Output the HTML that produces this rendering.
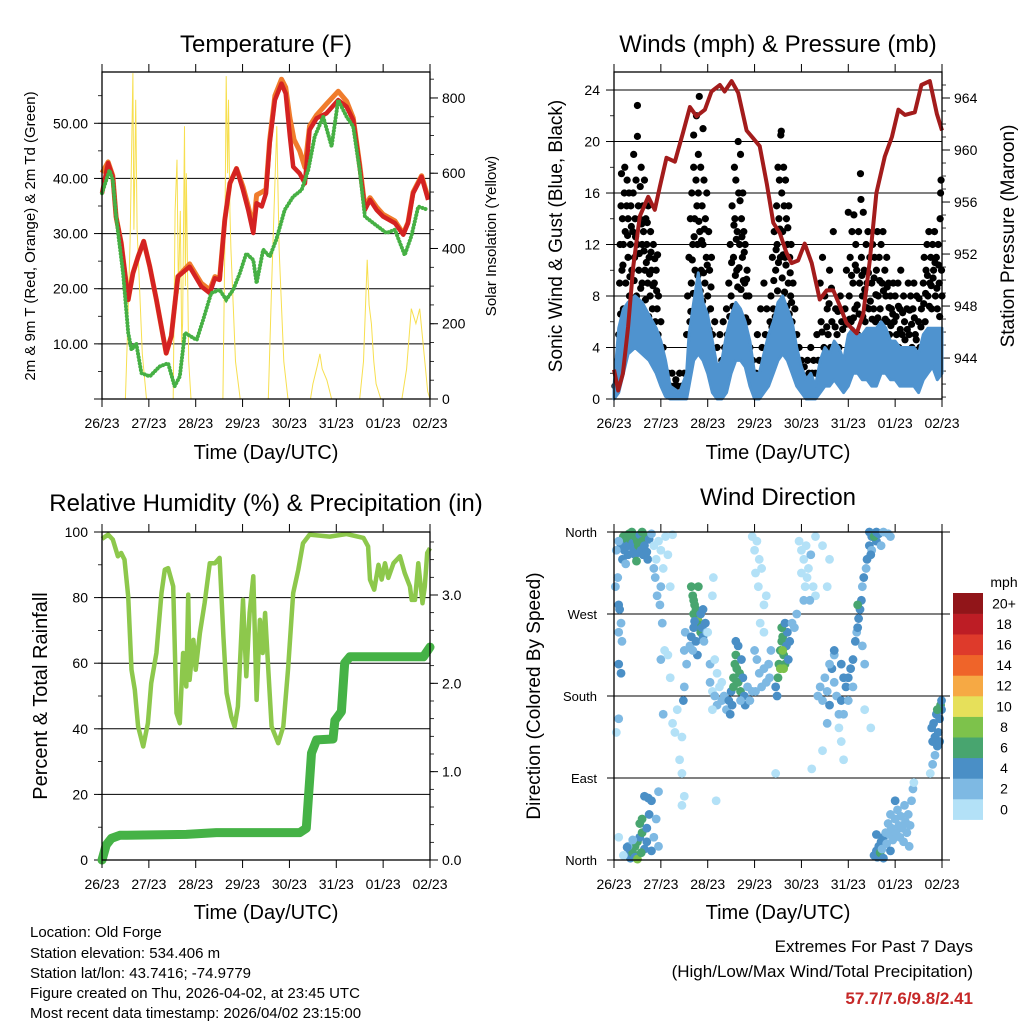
<!DOCTYPE html>
<html><head><meta charset="utf-8"><style>
html,body{margin:0;padding:0;background:#fff;}
svg{display:block;font-family:"Liberation Sans",Arial,sans-serif;}
</style></head><body>
<svg id="fig" width="1024" height="1024" viewBox="0 0 1024 1024" xmlns="http://www.w3.org/2000/svg">
<rect width="1024" height="1024" fill="#fff"/>
<g id="layer"></g>
<text x="266" y="52" font-size="24" text-anchor="middle">Temperature (F)</text>
<text x="778" y="52" font-size="24" text-anchor="middle">Winds (mph) &amp; Pressure (mb)</text>
<text x="266" y="511" font-size="24" text-anchor="middle">Relative Humidity (%) &amp; Precipitation (in)</text>
<text x="778" y="505" font-size="24" text-anchor="middle">Wind Direction</text>
<text x="266" y="459" font-size="20" text-anchor="middle">Time (Day/UTC)</text>
<text x="778" y="459" font-size="20" text-anchor="middle">Time (Day/UTC)</text>
<text x="266" y="919" font-size="20" text-anchor="middle">Time (Day/UTC)</text>
<text x="778" y="919" font-size="20" text-anchor="middle">Time (Day/UTC)</text>
<text transform="translate(35,236) rotate(-90)" font-size="15" text-anchor="middle">2m &amp; 9m T (Red, Orange) &amp; 2m Td (Green)</text>
<text transform="translate(496,236) rotate(-90)" font-size="15" text-anchor="middle">Solar Insolation (Yellow)</text>
<text transform="translate(562,236) rotate(-90)" font-size="19" text-anchor="middle">Sonic Wind &amp; Gust (Blue, Black)</text>
<text transform="translate(1014,236) rotate(-90)" font-size="19" text-anchor="middle">Station Pressure (Maroon)</text>
<text transform="translate(47,696) rotate(-90)" font-size="20" text-anchor="middle">Percent &amp; Total Rainfall</text>
<text transform="translate(540,696) rotate(-90)" font-size="19" text-anchor="middle">Direction (Colored By Speed)</text>
<text x="1004" y="587" font-size="14" text-anchor="middle">mph</text>
<g font-size="15">
<text x="30" y="937">Location: Old Forge</text>
<text x="30" y="958">Station elevation: 534.406 m</text>
<text x="30" y="978">Station lat/lon: 43.7416; -74.9779</text>
<text x="30" y="998">Figure created on Thu, 2026-04-02, at 23:45 UTC</text>
<text x="30" y="1018">Most recent data timestamp: 2026/04/02 23:15:00</text>
</g>
<text x="973" y="952" font-size="17" text-anchor="end">Extremes For Past 7 Days</text>
<text x="973" y="977" font-size="17" text-anchor="end">(High/Low/Max Wind/Total Precipitation)</text>
<text x="973" y="1004" font-size="17" font-weight="bold" fill="#c62828" text-anchor="end">57.7/7.6/9.8/2.41</text>
</svg>
<script>
const dayLabels=["26/23","27/23","28/23","29/23","30/23","31/23","01/23","02/23"];
const tempRed=[[0,37.3],[0.13,42.8],[0.23,40.3],[0.3,33],[0.41,28.3],[0.56,18],[0.66,22.8],[0.77,25.8],[0.89,28.6],[1.02,24],[1.16,18],[1.37,8.3],[1.48,11.4],[1.62,22.2],[1.87,24],[2.12,20.4],[2.3,19.2],[2.41,21.9],[2.51,21.6],[2.62,32.5],[2.73,39.1],[2.87,41.8],[3.01,37.9],[3.12,34.3],[3.23,30.1],[3.3,35.5],[3.41,34.9],[3.5,37.3],[3.58,46.4],[3.69,54.2],[3.83,57.2],[3.92,55.4],[4.01,47.6],[4.08,42.1],[4.22,40.9],[4.33,39.1],[4.43,48.8],[4.58,50.9],[4.79,51.8],[5.04,54.2],[5.22,53],[5.36,50.6],[5.5,42.1],[5.61,34.3],[5.72,36.1],[5.86,34.3],[6.0,33.1],[6.25,31.9],[6.43,29.8],[6.53,31.9],[6.64,37.3],[6.82,40.3],[6.96,36.1]];
const tempOrange=[[0,41],[0.13,43],[0.23,40.5],[0.3,33],[0.41,28.3],[0.56,18],[0.66,22.8],[0.77,25.8],[0.89,28.6],[1.02,24],[1.16,18],[1.37,8.3],[1.48,11.4],[1.62,22.2],[1.87,24.5],[2.12,21],[2.3,19.8],[2.41,22.2],[2.51,21.8],[2.62,32.5],[2.73,39.1],[2.87,41.8],[3.01,38.5],[3.12,35],[3.23,31],[3.3,37],[3.41,37.5],[3.5,38],[3.58,47],[3.69,55],[3.83,58],[3.92,56.5],[4.01,51],[4.1,47],[4.22,45],[4.33,42],[4.43,49.5],[4.58,51.5],[4.79,53.5],[5.04,55.8],[5.22,54],[5.36,51],[5.5,42.5],[5.61,34.8],[5.72,36.5],[5.86,34.8],[6.0,33.5],[6.25,32.3],[6.43,30],[6.53,32],[6.64,37.5],[6.82,40.5],[6.96,36.5]];
const tempDew=[[0,37.3],[0.16,41.5],[0.23,39.7],[0.3,33.1],[0.45,22.8],[0.56,12],[0.63,8.9],[0.73,10.1],[0.84,4.7],[1.02,4.1],[1.23,5.9],[1.41,6.5],[1.55,2.3],[1.66,4.1],[1.77,12],[2.02,10.7],[2.16,14.4],[2.33,19.2],[2.51,19.8],[2.65,18],[2.8,19.8],[2.94,22.8],[3.08,26.4],[3.23,25.2],[3.3,21],[3.44,27.1],[3.58,25.8],[3.72,28.9],[3.9,34.3],[4.08,36.7],[4.26,37.9],[4.4,41.5],[4.54,47.6],[4.72,51.2],[4.9,45.8],[5.04,54.2],[5.22,51.2],[5.36,49.4],[5.5,41.5],[5.61,33.1],[5.79,31.9],[6.07,30.1],[6.25,30.7],[6.46,26.1],[6.6,29.5],[6.75,34.9],[6.96,34.3]];
const solar=[[0,0],[0.5,0],[0.55,200],[0.6,420],[0.66,866],[0.68,450],[0.7,600],[0.72,795],[0.75,450],[0.8,300],[0.86,120],[0.95,0],[1.52,0],[1.56,500],[1.6,636],[1.63,280],[1.67,500],[1.7,150],[1.72,200],[1.76,725],[1.78,300],[1.8,600],[1.85,100],[1.9,0],[2.58,0],[2.62,400],[2.65,858],[2.68,600],[2.7,795],[2.73,500],[2.75,400],[2.85,100],[2.95,0],[3.55,0],[3.62,300],[3.67,500],[3.73,725],[3.78,400],[3.88,100],[3.97,0],[4.45,0],[4.5,40],[4.6,90],[4.65,120],[4.7,80],[4.8,50],[4.9,0],[5.5,0],[5.58,100],[5.66,370],[5.7,250],[5.75,200],[5.8,100],[5.85,40],[5.95,0],[6.4,0],[6.5,80],[6.6,240],[6.7,200],[6.78,240],[6.85,150],[6.95,20],[7,0]];
const pressure=[[0,943.1],[0.09,941.5],[0.19,942.8],[0.3,946.4],[0.41,951],[0.55,954.9],[0.73,956.4],[0.87,955.4],[0.98,957.2],[1.12,959.4],[1.3,959.1],[1.47,961.3],[1.62,963.3],[1.76,962.6],[1.94,963.1],[2.08,964.5],[2.26,965],[2.36,964.5],[2.51,965.3],[2.65,964.4],[2.83,961.5],[2.97,960.9],[3.11,960.3],[3.26,957.4],[3.4,954.4],[3.54,953.6],[3.68,952.1],[3.79,951.3],[3.93,951.5],[4.07,952.8],[4.22,951.3],[4.39,948.5],[4.54,949.2],[4.68,949.2],[4.82,948],[4.96,946.7],[5.18,945.9],[5.32,947.4],[5.46,951.5],[5.6,956.7],[5.78,959.5],[5.93,961],[6.07,963.1],[6.21,962.7],[6.42,962.9],[6.56,965],[6.74,965.3],[6.89,962.8],[7,961.5]];
const windDays=[0,0.1,0.2,0.3,0.45,0.6,0.75,0.9,1.0,1.1,1.2,1.4,1.55,1.6,1.7,1.8,1.9,2.0,2.1,2.2,2.3,2.4,2.5,2.6,2.7,2.8,2.9,3.0,3.1,3.2,3.3,3.4,3.5,3.6,3.7,3.8,3.9,4.0,4.1,4.2,4.3,4.4,4.5,4.6,4.7,4.8,4.9,5.0,5.1,5.2,5.3,5.4,5.5,5.6,5.7,5.8,5.9,6.0,6.1,6.2,6.3,6.4,6.5,6.6,6.7,6.8,6.9,7.0];
const windLo=[0,0.5,2,3.5,4,3.5,3,2,1,0.2,0,0,0,1,3,3.5,3,2,0.5,0,0,0.5,2,3,3,2.5,1,0,0,0.5,1,2,3,3.5,3,2,1,0.5,0,0,0,0.5,1,1,1.5,1,0.5,1,2,2,1.5,1.5,1,1,2,2,1.5,1.5,1,1,1,1,0.5,1.5,2,2.5,1.5,2];
const windHi=[1,5.5,7,7.5,8,7.5,6.5,5.5,4.5,3,1,0.5,2,5,7.5,9.8,7.5,6.5,4.5,2.5,3,5,6.5,7.5,7,6,4.5,2,2,3.5,5,6,7.5,8,7,6,4,2.5,1.5,2,1,3,4,3.5,4.5,4,3,5,5.5,5,5,5.5,5.5,5.5,6,5.5,4.5,4.5,4,4,4,4,3.5,5,5.5,5.5,5.5,5.5];
const gustPts=[[0.02,1],[0.05,2],[0.08,3],[0.1,5],[0.12,9],[0.13,12],[0.15,15],[0.16,17.5],[0.17,10],[0.18,14],[0.2,7],[0.2,12],[0.22,16],[0.23,18],[0.24,13],[0.25,9],[0.27,15],[0.28,17],[0.3,11],[0.3,14],[0.32,16],[0.33,8],[0.35,12],[0.36,15],[0.38,10],[0.4,13],[0.41,16],[0.42,19],[0.44,11],[0.45,14],[0.47,17],[0.48,8],[0.5,22.8],[0.5,20.4],[0.5,12],[0.52,15],[0.53,10],[0.55,14],[0.56,16.5],[0.58,18],[0.6,12],[0.6,9],[0.62,15],[0.63,13],[0.65,17],[0.66,10],[0.68,14],[0.7,12],[0.72,9],[0.73,15],[0.75,11],[0.77,8],[0.78,13],[0.8,10],[0.82,7],[0.84,12],[0.86,9],[0.88,6],[0.9,10],[0.92,7],[0.94,5],[0.95,8],[0.97,4],[1.0,6],[1.02,3],[1.05,4],[1.1,2],[1.13,1.5],[1.16,2],[1.2,1],[1.24,2],[1.28,1],[1.32,1.5],[1.36,1],[1.4,2],[1.45,1],[1.5,2],[1.55,5],[1.57,8],[1.6,11],[1.62,6],[1.63,14],[1.65,9],[1.66,16],[1.68,12],[1.7,18],[1.7,20.5],[1.72,14],[1.73,10],[1.75,17],[1.76,22],[1.77,15],[1.78,12],[1.8,19],[1.8,16],[1.82,23.5],[1.83,13],[1.85,18],[1.86,10],[1.88,15],[1.9,21],[1.9,12],[1.92,17],[1.94,9],[1.95,14],[1.97,11],[1.98,16],[2.0,8],[2.02,13],[2.04,10],[2.06,7],[2.08,11],[2.1,5],[2.12,3],[2.15,6],[2.18,2],[2.2,4],[2.23,2],[2.26,5],[2.3,3],[2.33,6],[2.36,4],[2.4,7],[2.42,5],[2.45,9],[2.48,12],[2.5,8],[2.52,15],[2.55,11],[2.57,18],[2.58,14],[2.6,17],[2.62,10],[2.63,13],[2.65,20],[2.66,16],[2.68,12],[2.7,19],[2.72,14],[2.74,11],[2.75,16],[2.77,13],[2.79,9],[2.8,12],[2.82,8],[2.84,10],[2.86,6],[2.88,8],[2.9,4],[2.93,2],[2.96,3],[3.0,1],[3.03,2],[3.06,5],[3.1,3],[3.13,7],[3.16,4],[3.2,9],[3.23,5],[3.26,7],[3.3,3],[3.33,6],[3.35,8],[3.38,11],[3.4,7],[3.42,13],[3.45,10],[3.47,15],[3.48,12],[3.5,18],[3.52,14],[3.53,17],[3.55,11],[3.56,20.5],[3.57,20.8],[3.58,16],[3.6,13],[3.62,18],[3.63,15],[3.65,11],[3.66,17],[3.68,14],[3.7,12],[3.72,9],[3.73,15],[3.75,11],[3.77,8],[3.78,12],[3.8,6],[3.82,9],[3.84,5],[3.86,7],[3.88,3],[3.9,5],[3.92,2],[3.95,4],[3.98,1.5],[4.0,3],[4.03,1],[4.06,2.5],[4.1,1.5],[4.13,3],[4.16,2],[4.2,4],[4.23,2],[4.26,3],[4.3,2],[4.33,5],[4.36,3],[4.4,9],[4.42,6],[4.45,11],[4.48,4],[4.5,8],[4.52,3],[4.55,7],[4.57,5],[4.6,10],[4.62,4],[4.65,6],[4.68,13],[4.7,3],[4.73,7],[4.76,5],[4.8,4],[4.83,8],[4.86,6],[4.9,3],[4.93,7],[4.96,10],[5.0,14.5],[5.02,8],[5.04,11],[5.06,6],[5.08,13],[5.1,9],[5.12,14.3],[5.14,7],[5.16,12],[5.18,10],[5.2,5],[5.22,13],[5.24,9],[5.26,17.5],[5.27,15.5],[5.28,11],[5.3,8],[5.32,14.5],[5.34,10],[5.36,6],[5.38,12],[5.4,9],[5.42,13],[5.44,7],[5.46,11],[5.48,5],[5.5,9],[5.52,12],[5.54,7],[5.56,11],[5.58,6],[5.6,10],[5.62,13],[5.64,8],[5.66,11],[5.68,7],[5.7,12],[5.72,9],[5.74,13],[5.76,6],[5.78,10],[5.8,8],[5.82,11],[5.84,6],[5.86,9],[5.88,5],[5.9,8],[5.92,7],[5.94,4],[5.96,9],[5.98,6],[6.0,8],[6.03,5],[6.06,9],[6.08,4],[6.1,7],[6.12,10],[6.15,5],[6.18,8],[6.2,6],[6.22,3],[6.25,7],[6.28,9],[6.3,5],[6.33,8],[6.36,4],[6.38,7],[6.4,9],[6.43,5],[6.46,8],[6.48,3],[6.5,6],[6.53,4],[6.56,7],[6.6,9],[6.62,11],[6.64,6],[6.66,10],[6.68,12],[6.7,8],[6.72,13],[6.74,9],[6.76,11],[6.78,7],[6.8,12],[6.82,10],[6.84,13],[6.86,8],[6.88,11],[6.9,7],[6.92,12],[6.94,9],[6.96,14],[6.97,16],[6.98,17],[6.99,10],[7.0,8],
[0.14,6.6],[0.19,10.4],[0.26,6.3],[0.29,12.7],[0.34,9.5],[0.37,13.4],[0.43,9.2],[0.46,12.6],[0.51,7.4],[0.54,11.3],[0.57,8.6],[0.59,13.6],[0.61,6.8],[0.64,11.5],[0.67,7.7],[0.69,10.6],[0.71,13.7],[0.74,6.4],[0.76,9.7],[0.79,11.4],[0.81,5.6],[0.83,8.8],[0.87,10.9],[0.91,8.4],[0.93,11.2],
[1.64,6.8],[1.67,10.8],[1.69,8.2],[1.71,12.6],[1.74,7.3],[1.79,9.6],[1.81,13.8],[1.84,8.4],[1.87,12.3],[1.89,7.6],[1.91,9.8],[1.93,13.2],[1.96,6.7],[1.99,10.4],[2.03,5.4],[2.07,8.7],
[2.47,6.4],[2.51,10.6],[2.54,7.2],[2.56,13.5],[2.59,9.6],[2.61,12.4],[2.64,8.7],[2.67,10.2],[2.69,15.4],[2.71,8.5],[2.73,12.6],[2.76,9.2],[2.78,11.4],[2.81,6.3],[2.83,9.3],
[3.37,5.6],[3.41,9.2],[3.44,6.4],[3.46,11.6],[3.49,8.4],[3.51,10.6],[3.54,13.2],[3.59,9.4],[3.61,11.2],[3.64,8.3],[3.67,10.4],[3.69,7.2],[3.71,13.3],[3.74,6.6],[3.76,9.8],[3.79,7.5],
[4.44,5.2],[4.54,5.6],[4.59,7.4],[4.64,8.6],[4.72,5.6],[4.78,6.8],[4.88,5.4],[4.95,5.8],
[5.03,6.2],[5.07,9.6],[5.11,6.3],[5.15,10.4],[5.19,7.3],[5.23,6.6],[5.29,9.6],[5.31,6.4],[5.35,8.5],[5.39,7.1],[5.43,9.8],[5.47,7.6],[5.51,6.2],[5.55,9.4],[5.59,8.1],[5.63,6.3],[5.67,9.2],[5.71,5.6],[5.75,8.4],[5.79,6.2],[5.83,8.7],[5.87,7.1],[5.91,5.7],[5.95,6.6],
[6.02,6.4],[6.07,7.2],[6.11,5.4],[6.16,6.7],[6.21,4.6],[6.26,5.4],[6.31,6.9],[6.35,5.8],[6.41,6.3],[6.45,4.6],[6.51,7.8],[6.55,5.6],[6.61,7.4],[6.65,8.2],[6.69,9.6],[6.73,7.2],[6.77,8.8],[6.81,9.4],[6.85,10.6],[6.89,8.6],[6.93,10.4],[6.95,6.4]];
const rh=[[0,97.9],[0.13,99.2],[0.23,97.7],[0.34,92.6],[0.41,93.6],[0.48,91.6],[0.56,80.4],[0.63,58],[0.7,51.9],[0.77,40.7],[0.88,34.6],[0.98,41.7],[1.05,53.9],[1.16,63.1],[1.27,81.4],[1.34,88.5],[1.41,89],[1.52,83.4],[1.59,44.8],[1.66,41.7],[1.73,63.1],[1.8,52.9],[1.84,80.9],[1.87,54.9],[1.95,67.1],[2.0,58],[2.09,69.2],[2.19,78.3],[2.3,90.5],[2.41,90.5],[2.51,92.1],[2.59,68.2],[2.66,50.9],[2.76,43.7],[2.83,40.7],[2.9,46.8],[3.01,79.3],[3.08,56],[3.15,75.3],[3.23,86.5],[3.3,48.8],[3.37,73.2],[3.43,63.1],[3.48,75.3],[3.55,58],[3.62,40.7],[3.76,35.6],[3.87,40.7],[3.97,58],[4.08,81.4],[4.19,88.5],[4.29,96.6],[4.43,99.2],[4.86,98.6],[5.22,99.4],[5.58,98.2],[5.68,95.6],[5.72,85.5],[5.81,82.4],[5.9,90],[5.97,85.5],[6.04,90.5],[6.11,86],[6.22,90.5],[6.36,92.6],[6.46,87.5],[6.57,83.4],[6.61,79.3],[6.68,79.3],[6.75,90.5],[6.84,78.3],[6.89,83.4],[6.94,93.6],[7.0,95.1]];
const precip=[[0,0],[0.09,0.17],[0.2,0.245],[0.38,0.28],[1.8,0.29],[2.44,0.31],[4.22,0.31],[4.36,0.36],[4.47,1.21],[4.58,1.36],[4.93,1.37],[4.97,1.58],[5.11,1.68],[5.18,2.23],[5.29,2.30],[6.86,2.30],[7.0,2.41]];
const dirPts=[[0.2,355,6],[0.25,350,6],[0.3,345,5],[0.32,358,7],[0.35,352,6],[0.4,348,5],[0.42,340,4],[0.45,355,6],[0.5,350,7],[0.52,345,6],[0.55,357,5],[0.58,340,4],[0.6,350,6],[0.62,335,4],[0.65,345,5],[0.68,355,6],[0.7,338,4],[0.72,330,4],[0.75,352,4],[0.3,335,4],[0.22,340,5],[0.18,330,4],[0.25,325,3],[0.38,360,6],[0.45,335,4],[0.6,360,6],[0.48,328,6],[0.15,345,4],[0.1,350,2],[0.05,340,2],[0.03,300,2],[0.08,310,2],[0.1,280,5],[0.15,260,3],[0.12,275,4],[0.1,250,3],[0.17,240,3],[0.1,215,4],
[0.8,358,2],[0.85,345,1],[0.9,330,1],[0.95,350,1],[1.0,340,1],[1.05,320,1],[1.1,355,1],[1.15,335,0],[1.2,300,1],[1.25,357,1],[0.88,310,2],[0.92,290,3],[1.0,300,3],[1.03,260,2],[0.98,280,3],[0.85,320,3],[1.08,230,1],
[1.0,220,2],[1.05,160,2],[1.15,225,1],[1.2,200,1],[1.25,150,1],[1.3,140,1],[1.35,165,1],[1.45,135,1],[1.4,110,0],[1.45,95,1],[1.5,70,1],[1.45,60,1],[1.5,230,3],[1.55,215,3],[1.52,250,2],[1.5,190,2],[1.48,175,4],
[0.3,5,4],[0.35,2,5],[0.4,8,6],[0.45,15,7],[0.5,20,6],[0.55,25,5],[0.6,30,6],[0.6,45,7],[0.55,40,6],[0.65,12,4],[0.7,20,4],[0.7,35,4],[0.75,50,4],[0.8,10,4],[0.8,65,4],[0.85,25,3],[0.9,45,3],[0.95,15,3],[0.45,3,5],[0.5,1,8],[0.58,8,6],[0.4,22,3],[0.3,15,2],[0.2,5,1],[0.1,25,1],[0.65,70,5],[0.73,68,4],[0.28,14,4],
[1.65,300,7],[1.68,290,6],[1.7,285,6],[1.72,280,7],[1.7,270,6],[1.75,275,6],[1.78,265,7],[1.8,262,9],[1.82,258,6],[1.85,250,6],[1.88,255,5],[1.9,245,4],[1.7,255,4],[1.65,245,4],[1.62,235,3],[1.75,240,5],[1.85,270,4],[1.95,260,4],[1.92,240,3],[1.78,225,4],[1.8,300,7],[1.72,262,4],[1.68,230,3],[1.9,275,4],[1.98,250,3],
[2.05,195,2],[2.1,185,1],[2.15,180,2],[2.2,170,2],[2.25,190,1],[2.3,175,2],[2.35,180,3],[2.4,165,3],[2.1,165,1],[2.2,205,1],[2.05,215,2],[2.3,195,1],[2.15,220,1],[2.0,250,1],[2.1,290,1],[2.12,310,1],
[2.45,175,4],[2.5,185,4],[2.55,200,6],[2.58,215,6],[2.6,225,6],[2.62,210,7],[2.65,195,6],[2.68,205,6],[2.7,185,6],[2.72,220,5],[2.75,200,4],[2.78,180,4],[2.8,170,4],[2.85,190,3],[2.52,170,4],[2.48,160,4],[2.6,240,4],[2.65,235,4],[2.7,175,3],[2.55,190,6],[2.62,195,6],[2.9,175,2],[2.95,185,2],
[2.95,355,1],[3.0,340,1],[3.05,350,1],[3.1,330,1],[3.02,315,1],[3.08,300,1],[3.15,320,1],[3.2,280,1],[3.25,290,1],[3.12,260,1],[3.2,250,1],[3.05,220,2],[3.1,205,2],[3.15,190,2],[3.2,210,2],[3.25,195,3],[3.3,215,2],[3.35,230,2],[3.32,200,2],[3.0,230,2],[3.02,185,2],
[3.45,190,4],[3.5,200,6],[3.52,215,7],[3.55,230,6],[3.58,240,7],[3.6,245,6],[3.62,225,7],[3.65,215,6],[3.68,235,4],[3.7,250,4],[3.72,220,4],[3.48,180,4],[3.55,210,8],[3.6,230,8],[3.62,210,8],[3.58,255,6],[3.65,260,4],[3.75,240,4],[3.8,260,3],[3.85,255,2],[3.9,270,2],
[3.95,350,1],[4.0,340,1],[4.05,330,1],[4.1,345,1],[4.15,320,1],[4.2,335,2],[4.08,300,1],[4.12,310,1],[4.0,315,1],[4.25,300,1],[4.3,290,1],[4.18,285,2],[4.05,285,3],[4.3,355,1],[4.45,345,1],[4.6,330,1],[4.55,300,1],
[4.35,180,2],[4.4,190,2],[4.45,175,2],[4.5,200,2],[4.55,185,3],[4.6,170,4],[4.65,210,4],[4.7,195,2],[4.75,180,2],[4.8,160,3],[4.85,175,4],[4.9,200,4],[4.95,190,4],[4.6,215,2],[4.7,225,2],[4.55,150,2],[4.8,145,1],[4.9,160,2],[4.45,120,1],[4.9,110,1],[4.7,230,4],[4.85,215,4],
[5.0,200,4],[5.05,210,4],[5.1,220,4],[5.15,240,4],[5.18,250,3],[5.2,255,4],[5.22,265,4],[5.25,275,4],[5.28,285,4],[5.3,300,3],[5.33,310,4],[5.38,320,3],[5.4,330,4],[5.45,345,4],[5.5,355,4],[5.55,358,4],[5.6,350,4],[5.5,340,3],[5.45,360,4],[5.2,280,6],[5.1,190,3],[5.0,175,3],[5.3,235,3],[5.35,215,2],[5.35,165,1],[5.55,355,6],[5.48,335,4],[5.6,360,4],[5.65,358,4],[5.7,345,3],[5.75,360,2],[5.85,358,2],[5.9,355,2],
[5.55,5,4],[5.6,10,4],[5.62,3,4],[5.65,15,4],[5.68,8,6],[5.7,20,4],[5.72,12,3],[5.75,25,4],[5.8,30,3],[5.82,18,3],[5.85,40,3],[5.88,28,3],[5.9,50,3],[5.92,35,3],[5.95,22,3],[6.0,45,3],[6.02,30,3],[6.05,55,3],[6.08,38,3],[6.1,25,3],[6.12,48,2],[6.15,35,2],[6.18,20,3],[6.2,60,2],[6.22,42,3],[6.25,30,3],[6.28,50,3],[6.3,15,2],[6.32,38,2],[6.35,65,2],[6.38,78,2],[6.4,85,1],[5.75,2,4],[5.6,28,4],[5.9,10,4],[6.0,65,4],
[6.78,145,4],[6.8,130,4],[6.82,150,4],[6.85,135,4],[6.88,160,4],[6.9,125,4],[6.92,140,4],[6.95,155,4],[6.97,170,6],[6.99,165,4],[6.85,115,2],[6.9,165,6],[6.95,130,4],[6.8,105,2],[6.99,175,4],[6.75,95,1],
[0.05,140,1],[0.1,155,2],[4.22,100,1],[4.85,130,1],[3.45,95,1],[2.18,65,1],[5.48,145,1],[0.15,205,4],[0.95,75,2]];
const speedColors=["#b3e1f7","#7eb9e3","#4a8fc6","#48a56f","#7dc24b","#e6e05a","#f6a944","#ef6429","#de3a2b","#bd1d25","#911519"];
const speedLabels=["0","2","4","6","8","10","12","14","16","18","20+"];
const dirLabels=["North","East","South","West","North"];

const NS="http://www.w3.org/2000/svg";
const layer=document.getElementById("layer");
function mk(tag,attrs,parent){const e=document.createElementNS(NS,tag);for(const k in attrs)e.setAttribute(k,attrs[k]);(parent||layer).appendChild(e);return e;}
function scale(d0,d1,r0,r1){return v=>r0+(v-d0)/(d1-d0)*(r1-r0);}
function pathD(pts,sx,sy){return pts.map((p,i)=>(i?"L":"M")+sx(p[0]).toFixed(1)+","+sy(p[1]).toFixed(1)).join("");}

const P1={x0:102,x1:430,y0:72,y1:399},P2={x0:614,x1:942,y0:72,y1:399},P3={x0:102,x1:430,y0:532,y1:860},P4={x0:614,x1:942,y0:532,y1:860};
function xs(P){return scale(0,7,P.x0,P.x1);}

function frame(P,name){
  const g=mk("g",{});
  
  
  const sx=xs(P);
  for(let i=0;i<8;i++){
    const x=sx(i);
    mk("line",{x1:x,x2:x,y1:P.y0-8,y2:P.y0,stroke:"#000","stroke-width":1},g);
    mk("line",{x1:x,x2:x,y1:P.y1,y2:P.y1+8,stroke:"#000","stroke-width":1},g);
    const t=mk("text",{x:x,y:P.y1+29,"font-size":14,"text-anchor":"middle"},g);
    t.textContent=dayLabels[i];
    
    
  }
  mk("rect",{x:P.x0,y:P.y0,width:P.x1-P.x0,height:P.y1-P.y0,fill:"none",stroke:"#000","stroke-width":1.3},g);
}
function yaxis(P,side,min,max,major,minor,fmt,grid,name){
  const sy=scale(min,max,P.y1,P.y0);
  const g=mk("g",{});
  
  
  const x=side==="l"?P.x0:P.x1,dir=side==="l"?-1:1;
  for(let v=min;v<=max+1e-9;v+=minor){
    const y=sy(v);if(y<P.y0-0.5)continue;
    mk("line",{x1:x,x2:x+dir*4,y1:y,y2:y,stroke:"#000","stroke-width":0.8},g);
  }
  for(const v of major){
    const y=sy(v);
    mk("line",{x1:x,x2:x+dir*8,y1:y,y2:y,stroke:"#000","stroke-width":1},g);
    if(grid&&v>min)mk("line",{x1:P.x0,x2:P.x1,y1:y,y2:y,stroke:"#000","stroke-width":1},g);
    const t=mk("text",{x:side==="l"?x-14:x+12,y:y+5,"font-size":14,"text-anchor":side==="l"?"end":"start"},g);
    t.textContent=fmt(v);
    
    
  }
  return sy;
}

// Panel 1: temperature
(function(){
  const P=P1,sx=xs(P);
  const sy=yaxis(P,"l",0,59.3,[0,10,20,30,40,50],5,v=>v?v.toFixed(2):"",true,"temp-y-axis");
  const ss=yaxis(P,"r",0,869,[0,200,400,600,800],50,v=>String(v),false,"solar-y-axis");
  const s=mk("path",{d:pathD(solar,sx,ss),fill:"none",stroke:"#f7df4f","stroke-width":1});
  
  const o=mk("path",{d:pathD(tempOrange,sx,sy),fill:"none",stroke:"#f07c2c","stroke-width":5,"stroke-linejoin":"round"});
  
  const r=mk("path",{d:pathD(tempRed,sx,sy),fill:"none",stroke:"#d42222","stroke-width":4.5,"stroke-linejoin":"round"});
  
  const d=mk("path",{d:pathD(tempDew,sx,sy),fill:"none",stroke:"#46b044","stroke-width":4,"stroke-dasharray":"0.1 3.2","stroke-linecap":"round"});
  
  frame(P,"temp");
})();

// Panel 2: winds & pressure
(function(){
  const P=P2,sx=xs(P);
  const sy=yaxis(P,"l",0,25.4,[0,4,8,12,16,20,24],2,v=>String(v),true,"wind-y-axis");
  const sp=scale(940.85,966,P.y1,P.y0);
  (function(){const g=mk("g",{});
    for(let v=941;v<=965;v++){const y=sp(v);const maj=[944,948,952,956,960,964].includes(v);
      mk("line",{x1:P.x1,x2:P.x1+(maj?8:4),y1:y,y2:y,stroke:"#000","stroke-width":maj?1:0.8},g);
      if(maj){const t=mk("text",{x:P.x1+12,y:y+5,"font-size":14},g);t.textContent=v;
        }}
  })();
  const gg=mk("g",{});
  gustPts.forEach(p=>{const c=mk("circle",{cx:sx(p[0]),cy:sy(p[1]),r:3.6,fill:"#000"},gg);
    });
  let d="";
  windDays.forEach((t,i)=>{d+=(i?"L":"M")+sx(t).toFixed(1)+","+sy(windHi[i]).toFixed(1);});
  for(let i=windDays.length-1;i>=0;i--)d+="L"+sx(windDays[i]).toFixed(1)+","+sy(windLo[i]).toFixed(1);
  const band=mk("path",{d:d+"Z",fill:"#4f93cf",stroke:"#4f93cf","stroke-width":3,"stroke-linejoin":"round"});
  
  const pl=mk("path",{d:pathD(pressure,sx,sp),fill:"none",stroke:"#a31c1c","stroke-width":4,"stroke-linejoin":"round"});
  
  frame(P,"wind");
})();

// Panel 3: RH & precip
(function(){
  const P=P3,sx=xs(P);
  const sy=yaxis(P,"l",0,100,[0,20,40,60,80,100],10,v=>String(v),true,"rh-y-axis");
  const sp=yaxis(P,"r",0,3.713,[0,1,2,3],0.2,v=>v.toFixed(1),false,"precip-y-axis");
  const r=mk("path",{d:pathD(rh,sx,sy),fill:"none",stroke:"#8dc84c","stroke-width":4.5,"stroke-linejoin":"round"});
  
  const p=mk("path",{d:pathD(precip,sx,sp),fill:"none",stroke:"#45b246","stroke-width":9,"stroke-linejoin":"round","stroke-linecap":"round"});
  
  frame(P,"rh");
})();

// Panel 4: wind direction
(function(){
  const P=P4,sx=xs(P),sy=scale(0,360,P.y1,P.y0);
  const g=mk("g",{});
  dirLabels.forEach((lab,i)=>{const y=sy(i*90);
    mk("line",{x1:P.x0-7,x2:P.x1+8,y1:y,y2:y,stroke:"#000","stroke-width":1},g);
    const t=mk("text",{x:P.x0-17,y:y+5,"font-size":13,"text-anchor":"end"},g);t.textContent=lab;
    });
  const pg=mk("g",{});
  dirPts.forEach(p=>{const b=Math.min(10,Math.floor(p[2]/2));
    const c=mk("circle",{cx:sx(p[0]),cy:sy(p[1]),r:4.4,fill:speedColors[b]},pg);
    });
  frame(P,"direction");
  const cb=mk("g",{});
  const h=20.6,top=593;
  speedColors.forEach((col,i)=>{const y=top+(10-i)*h;
    const r=mk("rect",{x:953,y:y,width:30,height:h+0.3,fill:col},cb);
    
    const t=mk("text",{x:1004,y:y+h/2+5,"font-size":14,"text-anchor":"middle"},cb);t.textContent=speedLabels[i];
    });
})();
</script>
</body></html>
